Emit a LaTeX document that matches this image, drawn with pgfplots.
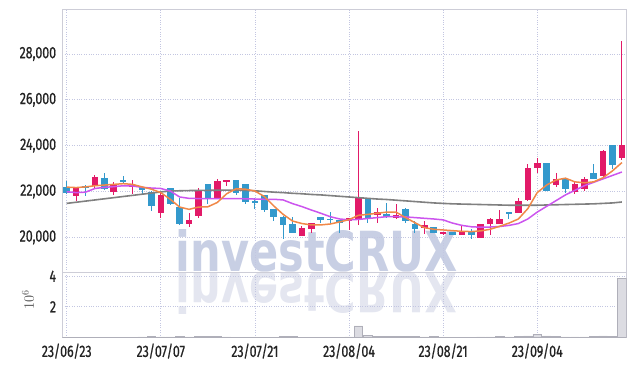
\documentclass[border=0pt]{standalone}
\usepackage{graphicx}
\usepackage{pgfplots}
\pgfplotsset{compat=1.18}
\usepackage{pgfplotstable}
\usepackage{fontspec}
\setmainfont{Fira Sans}
\newfontfamily\tickfont[FakeStretch=0.75, FakeBold=0.8]{Fira Sans}
\newfontfamily\wmfont{DejaVu Sans}
\definecolor{cup}{RGB}{226,26,104}
\definecolor{cdn}{RGB}{51,153,204}
\definecolor{maA}{RGB}{240,136,72}
\definecolor{maB}{RGB}{204,85,238}
\definecolor{maC}{RGB}{128,128,128}
\definecolor{gridc}{RGB}{195,198,225}
\definecolor{framec}{RGB}{205,205,215}
\definecolor{wm}{RGB}{200,207,228}
\definecolor{wmb}{RGB}{228,230,240}
\definecolor{tcol}{RGB}{35,35,35}
\definecolor{volf}{RGB}{220,220,226}
\definecolor{vold}{RGB}{175,175,185}
\pgfdeclarelayer{background}
\pgfsetlayers{background,main}

\pgfplotstableread{
i o h l c
1 21800 22200 21585 22170
3 22240 22707 22170 22633
5 21978 22432 21834 22284
7 22196 22489 21908 22284
10 21048 21952 20830 21834
13 20568 21079 20450 20742
14 20930 22170 20830 22022
16 21734 22533 21703 22459
17 22402 22510 22227 22502
25 20057 20493 20050 20406
26 20380 20620 20205 20611
30 20712 20840 20306 20830
31 20786 24640 20520 21734
33 20974 21297 20611 21105
35 20843 21441 20817 20991
38 20406 20712 20131 20524
40 20131 20240 20100 20232
42 20087 20493 20080 20249
44 19987 20600 19980 20598
45 20568 20830 20087 20817
46 20581 21192 20570 20786
48 21079 21734 21070 21585
49 21629 23188 21600 23044
50 23013 23480 22825 23231
52 22284 22795 22214 22533
54 21996 22430 21900 22314
55 22096 22650 22000 22533
57 22677 23800 22650 23769
59 23463 28550 23375 24017
}\up

\pgfplotstableread{
i o h l c
0 22200 22450 21900 21930
2 22230 22285 21800 22190
4 22607 22825 22050 22096
6 22480 22677 22314 22440
8 22196 22200 21908 22052
9 21996 22000 21148 21367
11 22140 22150 21400 21441
12 21323 21734 20537 20568
15 22314 22314 21472 21703
18 22489 22489 21834 21952
19 22314 22314 21472 21559
20 21585 21734 21223 21485
21 21834 21840 21105 21192
22 21223 21230 20712 20886
23 20904 20950 19913 20537
24 20568 20886 20175 20205
27 20873 20880 20611 20755
28 20800 21105 20642 20755
29 20755 20760 20205 20642
32 21659 21660 20611 20786
34 21004 21515 20860 20886
36 21253 21260 20642 20712
37 20568 20712 20205 20349
39 20450 20460 20180 20205
41 20218 20230 20080 20087
43 20231 20349 19943 20100
47 21105 21110 20817 21004
51 23231 23260 22000 22022
53 22533 22540 21921 22096
56 22795 23188 22530 22533
58 24017 24017 23000 23157
}\down

\pgfplotstableread{
i a b g v
0 22190 21990 21480 0.02
1 22170 21950 21530 0.02
2 22200 21970 21580 0.02
3 22250 22130 21630 0.02
4 22280 22180 21680 0.02
5 22310 22210 21730 0.02
6 22340 22250 21780 0.02
7 22310 22240 21830 0.02
8 22200 22180 21880 0.03
9 22100 22150 21930 0.05
10 21950 22130 21980 0.03
11 21660 22020 22020 0.03
12 21320 21760 22030 0.06
13 21220 21700 22040 0.03
14 21320 21690 22045 0.05
15 21330 21690 22050 0.05
16 21520 21690 22055 0.05
17 21900 21690 22060 0.03
18 22120 21690 22060 0.02
19 22100 21680 22050 0.02
20 22020 21670 22030 0.02
21 21780 21660 22000 0.02
22 21370 21660 21970 0.02
23 21000 21630 21950 0.05
24 20710 21470 21920 0.05
25 20600 21340 21900 0.02
26 20540 21190 21870 0.02
27 20540 21050 21850 0.02
28 20580 20900 21820 0.02
29 20670 20800 21790 0.02
30 20770 20760 21760 0.03
31 20960 20780 21730 0.75
32 21000 20820 21700 0.12
33 21050 20860 21670 0.06
34 21100 20900 21650 0.05
35 21100 20900 21620 0.05
36 20860 20890 21590 0.05
37 20640 20860 21560 0.05
38 20420 20830 21530 0.03
39 20350 20800 21500 0.05
40 20320 20760 21480 0.02
41 20290 20620 21460 0.02
42 20260 20520 21450 0.02
43 20250 20460 21440 0.02
44 20280 20440 21430 0.03
45 20350 20450 21420 0.03
46 20480 20470 21410 0.05
47 20620 20520 21400 0.03
48 20800 20600 21400 0.06
49 21250 20800 21400 0.10
50 21950 21100 21400 0.20
51 22280 21350 21410 0.10
52 22500 21600 21420 0.05
53 22580 21850 21430 0.03
54 22420 22050 21440 0.03
55 22380 22250 21450 0.03
56 22420 22400 21460 0.06
57 22600 22550 21480 0.10
58 22900 22700 21500 0.06
59 23260 22850 21540 3.86
}\ma

\pgfplotsset{
  tickf/.style={font=\tickfont\fontsize{16.5}{17}\selectfont, text=tcol, inner sep=0pt},
  base/.style={
    scale only axis,
    width=564.4pt,
    xmin=-0.47, xmax=59.51,
    xtick={0,10,20,30,40,50},
    scaled y ticks=false, scaled x ticks=false,
    grid=major,
    major grid style={gridc, dotted, line width=0.8pt},
    axis line style={framec, line width=0.8pt},
    major tick length=0pt,
    tick style={draw=none},
    yticklabel style={tickf, anchor=east},
    xticklabel style={tickf, anchor=north},
    yticklabel shift=6pt,
    xticklabel shift=6pt,
  },
  candle/.style={only marks, mark=*, mark size=0pt, mark options={draw=none, fill=none},
    error bars/.cd, y dir=both, y explicit, error mark=none,
    error bar style={line width=#1}},
}

\begin{document}
\begin{tikzpicture}
\begin{axis}[base, name=vol,
  at={(0pt,0pt)}, anchor=south west, height=65.4pt,
  ymin=0, ymax=4.28,
  ytick={2,4}, yticklabels={2,4},
  xticklabels={23/06/23,23/07/07,23/07/21,23/08/04,23/08/21,23/09/04},
  ylabel={$10^{6}$},
  ylabel style={at={(axis description cs:-0.05,0.57)}, anchor=south,
     font=\fontsize{14}{14}\selectfont, text=black!70, inner sep=0pt},
]
\addplot[ybar, bar width=8.5pt, fill=volf, draw=vold, line width=0.6pt] table[x=i, y=v] {\ma};
\end{axis}

\begin{axis}[base, name=price,
  at={(vol.north west)}, anchor=south west, height=262.7pt,
  ymin=18486, ymax=29950,
  xticklabels={},
  ytick={20000,22000,24000,26000,28000},
  yticklabels={{20,000},{22,000},{24,000},{26,000},{28,000}},
]
% wicks
\addplot[cup, candle=1pt]
  table[x=i, y expr={(\thisrow{h}+\thisrow{l})/2},
        y error plus expr={(\thisrow{h}-\thisrow{l})/2},
        y error minus expr={(\thisrow{h}-\thisrow{l})/2}] {\up};
\addplot[cdn, candle=1pt]
  table[x=i, y expr={(\thisrow{h}+\thisrow{l})/2},
        y error plus expr={(\thisrow{h}-\thisrow{l})/2},
        y error minus expr={(\thisrow{h}-\thisrow{l})/2}] {\down};
% bodies
\addplot[cup, candle=6.6pt]
  table[x=i, y expr={(\thisrow{o}+\thisrow{c})/2},
        y error plus expr={abs(\thisrow{c}-\thisrow{o})/2},
        y error minus expr={abs(\thisrow{c}-\thisrow{o})/2}] {\up};
\addplot[cdn, candle=6.6pt]
  table[x=i, y expr={(\thisrow{o}+\thisrow{c})/2},
        y error plus expr={abs(\thisrow{c}-\thisrow{o})/2},
        y error minus expr={abs(\thisrow{c}-\thisrow{o})/2}] {\down};
% moving averages
\addplot[maC, line width=1.6pt, no marks] table[x=i, y=g] {\ma};
\addplot[maB, line width=1.5pt, no marks] table[x=i, y=b] {\ma};
\addplot[maA, line width=1.5pt, no marks] table[x=i, y=a] {\ma};
\end{axis}

\begin{pgfonlayer}{background}
\node[anchor=south west, inner sep=0pt, text=wm] at ([xshift=113.4pt]vol.north west) {\resizebox{282pt}{42pt}{\wmfont\bfseries investCRUX}};
\node[anchor=north west, inner sep=0pt, text=wmb] at ([xshift=113.4pt]vol.north west) {\scalebox{1}[-1]{\resizebox{282pt}{42pt}{\wmfont\bfseries investCRUX}}};
\end{pgfonlayer}

\pgfresetboundingbox
\useasboundingbox ([xshift=-62.3pt,yshift=-28.6pt]vol.south west) rectangle ++(635pt,366pt);
\end{tikzpicture}
\end{document}
